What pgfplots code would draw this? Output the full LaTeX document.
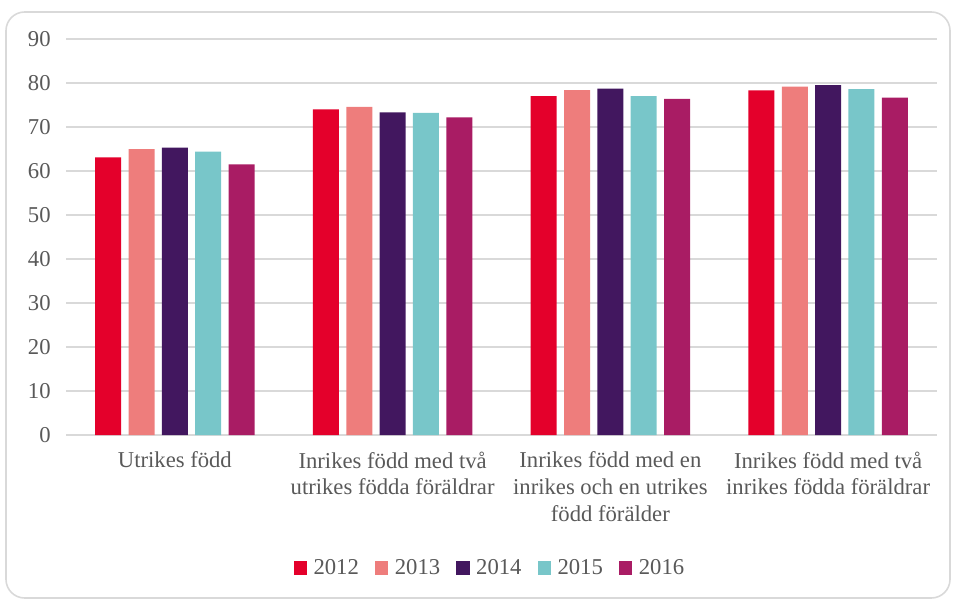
\documentclass[border=0pt]{standalone}
\usepackage{pgfplots}
\pgfplotsset{compat=1.18}
\usepackage{fontspec}
\setmainfont{Liberation Serif}
\definecolor{c12}{HTML}{E4002B}
\definecolor{c13}{HTML}{EE7D7C}
\definecolor{c14}{HTML}{42175F}
\definecolor{c15}{HTML}{78C6C9}
\definecolor{c16}{HTML}{A91C64}
\definecolor{txt}{HTML}{595959}
\definecolor{gridc}{HTML}{D9D9D9}
\begin{document}
\begin{tikzpicture}[x=0.75pt,y=-0.75pt]
\useasboundingbox (0,0) rectangle (956,599);
\draw[gridc, line width=1.2pt, rounded corners=14pt] (6,12) rectangle (950,598);
\begin{axis}[
  at={(49.5pt,-326.25pt)}, anchor=south west,
  scale only axis, width=653.25pt, height=297pt,
  ybar=5.5pt, bar width=19.5pt,
  ymin=0, ymax=90, ytick={0,10,...,90},
  xmin=-0.5, xmax=3.5, xtick={0,1,2,3},
  xticklabels={{Utrikes född},{Inrikes född med två\\utrikes födda föräldrar},{Inrikes född med en\\inrikes och en utrikes\\född förälder},{Inrikes född med två\\inrikes födda föräldrar}},
  axis line style={draw=none},
  ymajorgrids, grid style={color=gridc, line width=1pt},
  major tick length=0pt, tick style={draw=none},
  /pgf/number format/assume math mode=true,
  tick label style={font=\fontsize{17}{20}\selectfont, text=txt},
  yticklabel style={xshift=-8pt},
  xticklabel style={align=center, yshift=-9pt},
  legend style={at={(0.487,-0.336)}, anchor=center, draw=none, legend columns=5,
    font=\fontsize{17}{20}\selectfont, text=txt,
    /tikz/every odd column/.append style={column sep=3pt},
    /tikz/every even column/.append style={column sep=10pt}},
  legend image code/.code={\fill[#1] (0pt,-5pt) rectangle (10pt,5pt);},
]
\addplot[fill=c12, draw=none] coordinates {(0,63.1) (1,74.0) (2,77.0) (3,78.3)};
\addplot[fill=c13, draw=none] coordinates {(0,65.0) (1,74.6) (2,78.4) (3,79.2)};
\addplot[fill=c14, draw=none] coordinates {(0,65.3) (1,73.3) (2,78.7) (3,79.5)};
\addplot[fill=c15, draw=none] coordinates {(0,64.4) (1,73.2) (2,77.0) (3,78.6)};
\addplot[fill=c16, draw=none] coordinates {(0,61.5) (1,72.2) (2,76.4) (3,76.7)};
\legend{2012,2013,2014,2015,2016}
\end{axis}
\end{tikzpicture}
\end{document}
